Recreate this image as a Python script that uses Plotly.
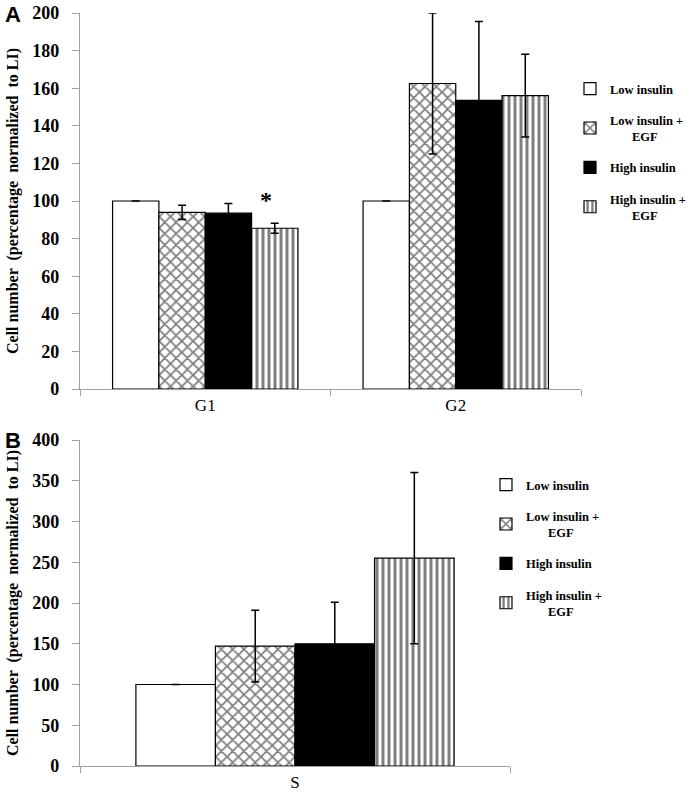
import plotly.graph_objects as go

# ---------------- data ----------------
series_names = ["Low insulin", "Low insulin + EGF", "High insulin", "High insulin + EGF"]
legend_labels = ["Low insulin", "Low insulin +<br>       EGF", "High insulin", "High insulin +<br>       EGF"]

cats_A = ["G1", "G2"]
low_A = [100, 100]
low_egf_A = [94, 162.5]
high_A = [93.5, 153.5]
high_egf_A = [85.5, 156]
err_low_A = [0, 0]
err_low_egf_A = [3.8, 37.5]
err_high_A = [5.2, 42]
err_high_egf_A = [2.7, 22]

cats_B = ["S"]
low_B = [100]
low_egf_B = [147]
high_B = [150]
high_egf_B = [255]
err_low_B = [0]
err_low_egf_B = [44]
err_high_B = [51]
err_high_egf_B = [105]

yticks_A = [0, 20, 40, 60, 80, 100, 120, 140, 160, 180, 200]
yticks_B = [0, 50, 100, 150, 200, 250, 300, 350, 400]
y_title = "Cell number  (percentage  normalized  to LI)"

# ---------------- styles ----------------
W, H = 694, 799
SERIF = "Liberation Serif"
AXIS_GRAY = "#a0a0a0"

styles = [
    dict(color="white", pattern=None),
    dict(color="white", pattern=dict(shape="x", size=8, solidity=0.4, fgcolor="black", bgcolor="white", fillmode="overlay")),
    dict(color="black", pattern=None),
    dict(color="white", pattern=dict(shape="|", size=6, solidity=0.5, fgcolor="black", bgcolor="white", fillmode="overlay")),
]

fig = go.Figure()

def add_panel(cats, vals, errs, xa, ya, legend):
    for i, (v, e) in enumerate(zip(vals, errs)):
        st = styles[i]
        marker = dict(color=st["color"], line=dict(color="black", width=1.2))
        if st["pattern"] is not None:
            marker["pattern"] = st["pattern"]
        fig.add_trace(go.Bar(
            x=cats, y=v, name=legend_labels[i],
            marker=marker,
            error_y=dict(type="data", array=e, visible=True, color="black", thickness=1.5, width=4),
            xaxis=xa, yaxis=ya, legend=legend, legendgroup=legend + str(i),
            showlegend=True,
            offsetgroup=str(i),
        ))

add_panel(cats_A, [low_A, low_egf_A, high_A, high_egf_A],
          [err_low_A, err_low_egf_A, err_high_A, err_high_egf_A], "x", "y", "legend")
add_panel(cats_B, [low_B, low_egf_B, high_B, high_egf_B],
          [err_low_B, err_low_egf_B, err_high_B, err_high_egf_B], "x2", "y2", "legend2")

def px_x(p):
    return p / W

def px_y(p):
    return 1 - p / H

tickfont = dict(family=SERIF, size=18, color="black", weight="bold")
xtickfont = dict(family=SERIF, size=17, color="black")
titlefont = dict(family=SERIF, size=16, color="black", weight="bold")
legfont = dict(family=SERIF, size=12.5, color="black", weight="bold")

common_y = dict(showline=True, linecolor=AXIS_GRAY, linewidth=1.2, ticks="outside",
                ticklen=7, tickcolor=AXIS_GRAY, showgrid=False, zeroline=False,
                ticklabelstandoff=9, automargin=False,
                tickfont=tickfont, title=dict(text=y_title, font=titlefont, standoff=9))
common_x = dict(showline=True, linecolor=AXIS_GRAY, linewidth=1.2, ticks="outside",
                tickson="boundaries", ticklen=6, tickcolor=AXIS_GRAY, showgrid=False,
                automargin=False, tickfont=xtickfont)

fig.update_layout(
    width=W, height=H,
    margin=dict(l=0, r=0, t=0, b=0, autoexpand=False),
    paper_bgcolor="white", plot_bgcolor="white",
    barmode="group", bargap=0.26, bargroupgap=0,
    xaxis=dict(domain=[px_x(80), px_x(581)], anchor="y", **common_x),
    yaxis=dict(domain=[px_y(389), px_y(13)], anchor="x", range=[0, 200],
               tickvals=yticks_A, **common_y),
    xaxis2=dict(domain=[px_x(80), px_x(510)], anchor="y2", **common_x),
    yaxis2=dict(domain=[px_y(766), px_y(440)], anchor="x2", range=[0, 400],
                tickvals=yticks_B, **common_y),
    legend=dict(x=px_x(570), y=px_y(74), xanchor="left", yanchor="top",
                font=legfont, tracegroupgap=12, bgcolor="rgba(0,0,0,0)", itemwidth=30),
    legend2=dict(x=px_x(486), y=px_y(470), xanchor="left", yanchor="top",
                 font=legfont, tracegroupgap=12, bgcolor="rgba(0,0,0,0)", itemwidth=30),
    annotations=[
        dict(text="<b>A</b>", x=px_x(3), y=px_y(14), xref="paper", yref="paper",
             xanchor="left", yanchor="middle", showarrow=False,
             font=dict(family="Liberation Sans", size=22, color="black")),
        dict(text="<b>B</b>", x=px_x(3), y=px_y(440), xref="paper", yref="paper",
             xanchor="left", yanchor="middle", showarrow=False,
             font=dict(family="Liberation Sans", size=22, color="black")),
        dict(text="<b>*</b>", x=0, y=100.5, xref="x", yref="y", xshift=61,
             xanchor="center", yanchor="middle", showarrow=False,
             font=dict(family=SERIF, size=24, color="black")),
    ],
)

fig.write_html("out.html", config={"displayModeBar": False},
               post_script="document.body.style.margin='0px';")
